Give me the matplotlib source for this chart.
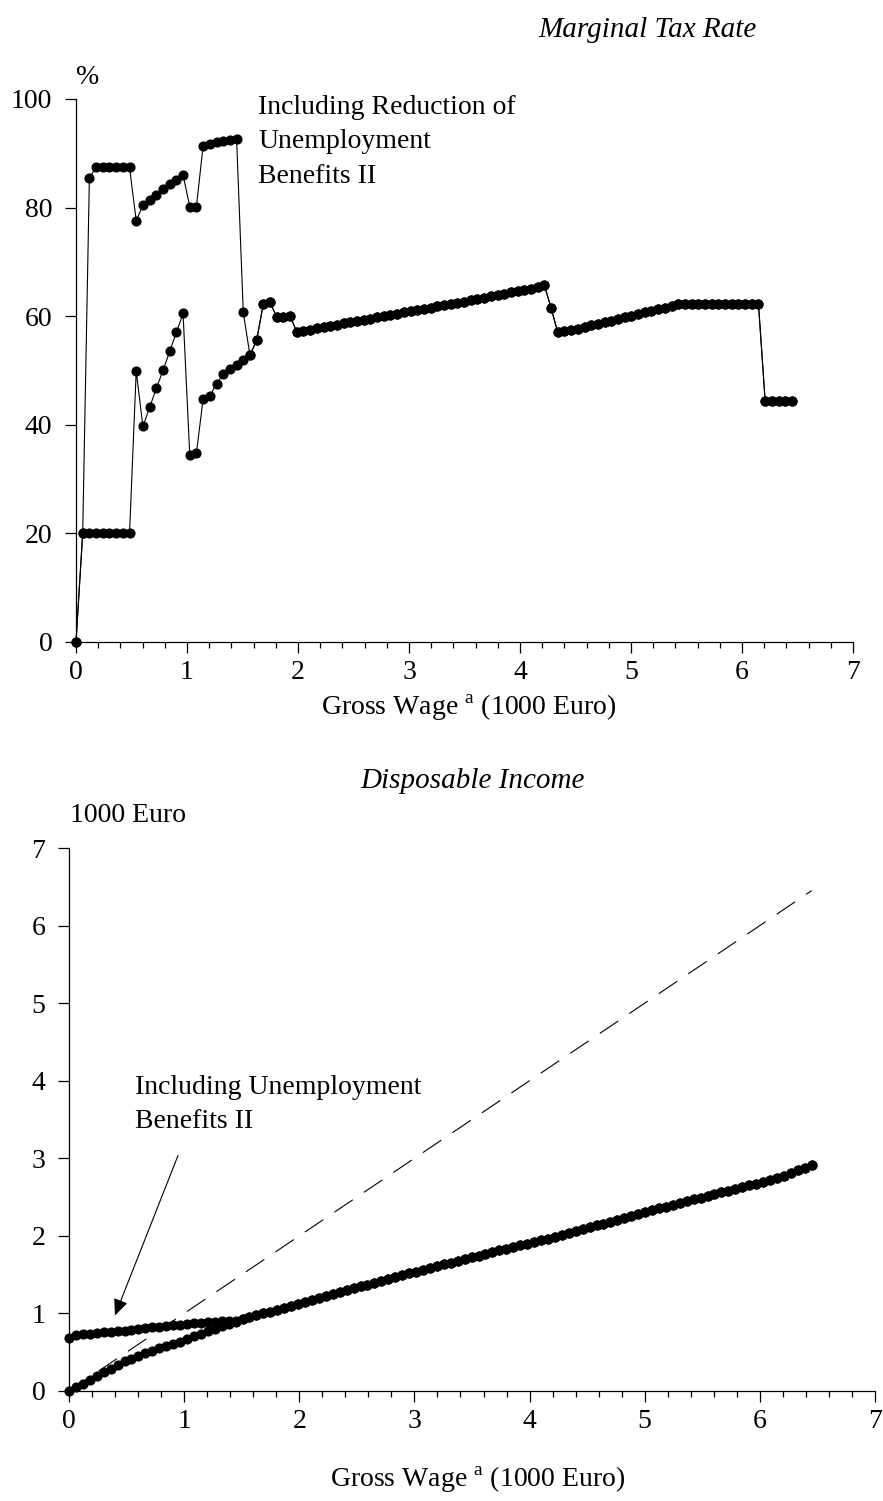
import numpy as np
import matplotlib
matplotlib.use("Agg")
import matplotlib.pyplot as plt
from matplotlib.ticker import MultipleLocator

plt.rcParams['font.family'] = ['Liberation Serif', 'DejaVu Serif']
plt.rcParams['mathtext.fontset'] = 'custom'
plt.rcParams['mathtext.rm'] = 'Liberation Serif'
plt.rcParams['font.size'] = 20

# gross wage grid (1000 Euro), 108 evenly spaced wage levels
gross_wage = np.linspace(0, 6.45, 108)

# marginal tax rate (%) without benefits
mtr_base = [
    0, 20, 20, 20, 20, 20, 20, 20, 20, 49.9,
    39.7, 43.2, 46.7, 50.0, 53.5, 57.0, 60.5, 34.5, 34.8, 44.8,
    45.3, 47.6, 49.3, 50.2, 51.0, 51.9, 52.8, 55.6, 62.3, 62.6,
    59.8, 59.9, 60.0, 57.1, 57.3, 57.5, 57.8, 58.0, 58.2, 58.4,
    58.7, 58.9, 59.1, 59.3, 59.5, 59.8, 60.0, 60.2, 60.4, 60.7,
    60.9, 61.1, 61.3, 61.6, 61.8, 62.0, 62.3, 62.5, 62.7, 63.0,
    63.2, 63.4, 63.7, 63.9, 64.1, 64.4, 64.6, 64.9, 65.1, 65.4,
    65.7, 61.5, 57.0, 57.2, 57.4, 57.7, 58.0, 58.3, 58.6, 58.9,
    59.2, 59.5, 59.8, 60.1, 60.4, 60.7, 61.0, 61.3, 61.6, 61.9,
    62.2, 62.2, 62.2, 62.2, 62.2, 62.2, 62.2, 62.2, 62.2, 62.2,
    62.2, 62.2, 62.2, 44.3, 44.3, 44.3, 44.3, 44.3,
]
# marginal tax rate (%) including reduction of unemployment benefits II (first 26 levels)
mtr_ubii_head = [
    0, 20, 85.5, 87.4, 87.4, 87.4, 87.4, 87.4, 87.4, 77.6,
    80.4, 81.4, 82.4, 83.4, 84.3, 85.1, 86.0, 80.2, 80.2, 91.4,
    91.8, 92.1, 92.3, 92.5, 92.7, 60.7,
]
mtr_ubii = mtr_ubii_head + mtr_base[len(mtr_ubii_head):]

# disposable income (1000 Euro) without benefits
disp_base = [
    0, 0.048, 0.096, 0.145, 0.193, 0.241, 0.289, 0.338, 0.386, 0.416,
    0.452, 0.487, 0.519, 0.549, 0.577, 0.603, 0.627, 0.666, 0.705, 0.739,
    0.772, 0.803, 0.834, 0.864, 0.893, 0.922, 0.951, 0.978, 1.000, 1.023,
    1.047, 1.071, 1.095, 1.121, 1.147, 1.172, 1.198, 1.223, 1.248, 1.273,
    1.298, 1.323, 1.348, 1.372, 1.397, 1.421, 1.445, 1.469, 1.493, 1.517,
    1.540, 1.564, 1.587, 1.610, 1.633, 1.656, 1.679, 1.701, 1.724, 1.746,
    1.768, 1.790, 1.812, 1.834, 1.856, 1.877, 1.899, 1.920, 1.941, 1.962,
    1.982, 2.005, 2.031, 2.057, 2.083, 2.108, 2.134, 2.159, 2.184, 2.208,
    2.233, 2.257, 2.282, 2.306, 2.330, 2.353, 2.377, 2.400, 2.423, 2.446,
    2.469, 2.492, 2.515, 2.538, 2.560, 2.583, 2.606, 2.629, 2.652, 2.674,
    2.697, 2.720, 2.743, 2.776, 2.810, 2.844, 2.877, 2.911,
]
# disposable income including unemployment benefits II (first 25 levels)
disp_ubii_head = [
    0.68, 0.725, 0.733, 0.741, 0.748, 0.756, 0.763, 0.771, 0.778, 0.790,
    0.801, 0.812, 0.822, 0.831, 0.840, 0.848, 0.856, 0.867, 0.878, 0.883,
    0.888, 0.892, 0.896, 0.900, 0.904,
]
disp_ubii = disp_ubii_head + disp_base[len(disp_ubii_head):]

# 45 degree reference: disposable = gross
ref_x = [0, 6.45]
ref_y = [0, 6.45]

W, H = 883, 1501
fig = plt.figure(figsize=(W / 100, H / 100), dpi=100)

def px_axes(left, top, right, bottom):
    return fig.add_axes([left / W, 1 - bottom / H, (right - left) / W, (bottom - top) / H])

def style_axis(ax, ymax, ystep):
    ax.set_xlim(0, 7)
    ax.set_ylim(0, ymax)
    for s in ['top', 'right']:
        ax.spines[s].set_visible(False)
    for s in ['left', 'bottom']:
        ax.spines[s].set_linewidth(0.9)
    ax.xaxis.set_major_locator(MultipleLocator(1))
    ax.xaxis.set_minor_locator(MultipleLocator(0.2))
    ax.yaxis.set_major_locator(MultipleLocator(ystep))
    ax.tick_params(axis='x', which='major', length=8, width=0.9, pad=5)
    ax.tick_params(axis='x', which='minor', length=4, width=0.9)
    ax.tick_params(axis='y', which='major', length=8, width=0.9, pad=9)

mk = dict(color='black', lw=0.8, marker='o', ms=6.3, clip_on=False)

# top: marginal tax rate
ax1 = px_axes(76, 99, 853, 642)
style_axis(ax1, 100, 20)
ax1.plot(gross_wage, mtr_ubii, **mk)
ax1.plot(gross_wage, mtr_base, **mk)
fig.text(647 / W, 1 - 30 / H, 'Marginal Tax Rate', ha='center', va='center',
         style='italic', fontsize=21)
fig.text(88 / W, 1 - 77 / H, '%', ha='center', va='center')
fig.text(258 / W, 1 - 95 / H, 'Including Reduction of\nUnemployment\nBenefits II',
         ha='left', va='top', linespacing=1.5)
fig.text(469 / W, 1 - 708 / H, r'Gross Wage $^{\mathrm{a}}$ (1000 Euro)', ha='center', va='center')

# bottom: disposable income
ax2 = px_axes(69, 848, 875, 1391)
style_axis(ax2, 7, 1)
ax2.plot(ref_x, ref_y, color='black', lw=0.8, ls=(0, (20, 12)))
ax2.plot(gross_wage, disp_base, **mk)
ax2.plot(gross_wage, disp_ubii, **mk)
fig.text(473 / W, 1 - 781 / H, 'Disposable Income', ha='center', va='center',
         style='italic', fontsize=21)
fig.text(70 / W, 1 - 815 / H, '1000 Euro', ha='left', va='center')
fig.text(135 / W, 1 - 1075 / H, 'Including Unemployment\nBenefits II',
         ha='left', va='top', linespacing=1.5)
ax2.annotate('', xy=(0.39, 0.94), xytext=(0.956, 3.07),
             arrowprops=dict(arrowstyle='-|>,head_length=0.5,head_width=0.22',
                             color='black', lw=0.8, mutation_scale=20))
fig.text(478 / W, 1 - 1480 / H, r'Gross Wage $^{\mathrm{a}}$ (1000 Euro)', ha='center', va='center')

fig.savefig('out.png', dpi=100)
